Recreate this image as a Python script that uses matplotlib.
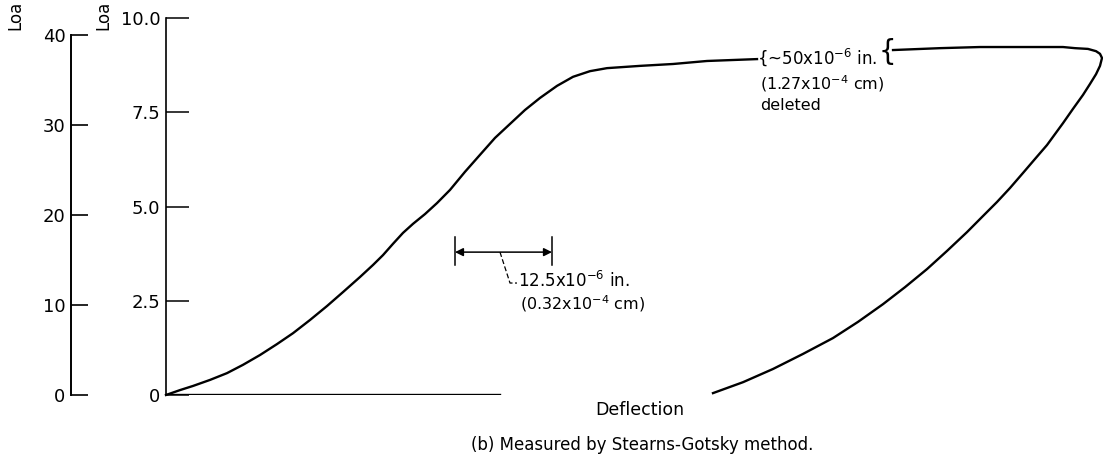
import numpy as np
import matplotlib
matplotlib.use("Agg")
import matplotlib.pyplot as plt

plt.rcParams['font.family'] = ['DejaVu Sans']
plt.rcParams['mathtext.default'] = 'regular'

# deflection in 10^-6 in., load on the inner scale
load_defl = [0, 1.80, 3.48, 5.67, 7.86, 9.92, 12.11, 14.30, 16.37, 18.56, 20.75,
             22.81, 25.00, 26.68, 27.96, 29.25, 30.54, 31.83, 33.38, 34.92, 36.60,
             38.53, 40.46, 42.40, 44.33, 46.26, 48.20, 50.39, 52.45, 54.64, 56.83,
             61.08, 65.34, 69.72, 76.16]
load_val = [0, 0.13, 0.24, 0.40, 0.58, 0.80, 1.06, 1.35, 1.64, 1.99, 2.36,
            2.73, 3.13, 3.45, 3.71, 4.01, 4.30, 4.54, 4.80, 5.09, 5.44,
            5.92, 6.37, 6.82, 7.19, 7.56, 7.88, 8.20, 8.44, 8.59, 8.67,
            8.73, 8.78, 8.86, 8.91]

unload_defl = [93.69, 99.74, 104.90, 110.05, 115.59, 117.14, 118.81, 119.85, 120.36,
               120.62, 120.36, 119.85, 119.07, 118.17, 116.88, 115.59, 114.56, 113.53,
               111.98, 110.44, 108.76, 107.09, 105.15, 103.22, 100.64, 98.07, 95.23,
               92.40, 89.18, 85.95, 82.09, 78.22, 74.36, 70.49]
unload_val = [9.15, 9.20, 9.23, 9.23, 9.23, 9.20, 9.18, 9.12, 9.05,
              8.94, 8.73, 8.51, 8.25, 7.96, 7.59, 7.21, 6.92, 6.63,
              6.26, 5.89, 5.49, 5.12, 4.72, 4.32, 3.82, 3.34, 2.86,
              2.41, 1.94, 1.51, 1.09, 0.69, 0.34, 0.05]

base_defl = [0, 43.0]
inner_ticks = [0, 2.5, 5.0, 7.5, 10.0]
inner_labels = ['0', '2.5', '5.0', '7.5', '10.0']
outer_ticks = [0, 10, 20, 30, 40]
scale_bar = [37.24, 49.74]   # 12.5x10^-6 in.

W, H = 1103, 472
fig = plt.figure(figsize=(W / 100, H / 100), dpi=100)

ax = fig.add_axes([166 / W, (H - 395) / H, (W - 166) / W, (395 - 18) / H])
ax.set_xlim(0, (W - 166) / 7.76)
ax.set_ylim(0, 10)
for s in ['top', 'right', 'bottom']:
    ax.spines[s].set_visible(False)
ax.spines['left'].set_linewidth(1.2)
ax.set_xticks([])
ax.set_yticks(inner_ticks)
ax.set_yticklabels(inner_labels)
ax.tick_params(axis='y', direction='in', length=16.5, width=1.1, pad=4, labelsize=13)

ax.plot(load_defl, load_val, color='black', lw=1.7, solid_joinstyle='round', clip_on=False)
ax.plot(unload_defl, unload_val, color='black', lw=1.7, solid_joinstyle='round')
ax.plot(base_defl, [0, 0], color='black', lw=1.7)

# scale bar
ax.annotate('', xy=(scale_bar[0], 3.79), xytext=(scale_bar[1], 3.79),
            arrowprops=dict(arrowstyle='<|-|>', color='black', lw=1.1,
                            shrinkA=0, shrinkB=0, mutation_scale=12))
for xb in scale_bar:
    ax.plot([xb, xb], [3.45, 4.19], color='black', lw=1.1)
ax.plot([43.04, 44.33, 45.23], [3.79, 2.97, 2.97], color='black', lw=0.9, ls=(0, (4, 2)))
ax.text(45.4, 3.02, '12.5x10$^{-6}$ in.', fontsize=12, va='center', ha='left')
ax.text(45.6, 2.43, '(0.32x10$^{-4}$ cm)', fontsize=11.5, va='center', ha='left')

# break annotation
ax.text(76.1, 8.95, '{~50x10$^{-6}$ in.', fontsize=12, va='center', ha='left')
ax.text(76.5, 8.25, '(1.27x10$^{-4}$ cm)', fontsize=11.5, va='center', ha='left')
ax.text(76.5, 7.67, 'deleted', fontsize=11.5, va='center', ha='left')
ax.text(93.0, 9.1, '{', fontsize=20, va='center', ha='center')

# outer load scale
ax2 = fig.add_axes([71 / W, (H - 395) / H, 20 / W, (395 - 35) / H])
ax2.set_ylim(0, 40)
ax2.set_xlim(0, 1)
for s in ['top', 'right', 'bottom']:
    ax2.spines[s].set_visible(False)
ax2.spines['left'].set_linewidth(1.4)
ax2.set_xticks([])
ax2.set_yticks(outer_ticks)
ax2.tick_params(axis='y', direction='in', length=12.5, width=1.2, pad=4, labelsize=13)
ax2.patch.set_visible(False)

fig.text(15 / W, 1 - 1 / H, 'Loa', rotation=90, fontsize=12, ha='center', va='top')
fig.text(103 / W, 1 - 1 / H, 'Loa', rotation=90, fontsize=12, ha='center', va='top')

fig.text(640 / W, 1 - 410 / H, 'Deflection', fontsize=12.5, ha='center', va='center')
fig.text(642 / W, 1 - 445 / H, '(b) Measured by Stearns-Gotsky method.', fontsize=12,
         ha='center', va='center')

fig.savefig('out.png', dpi=100)
